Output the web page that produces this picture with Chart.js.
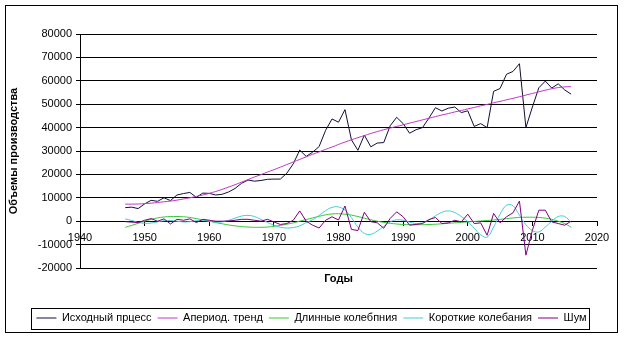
<!DOCTYPE html>
<html lang="ru">
<head>
<meta charset="utf-8">
<title>Объемы производства</title>
<script src="https://cdn.jsdelivr.net/npm/chart.js@4.4.1/dist/chart.umd.min.js"></script>
<style>
  html, body { margin: 0; padding: 0; background: #fff; }
  #wrap { width: 624px; height: 338px; }
</style>
</head>
<body>
<div id="wrap"><canvas id="productionChart" width="624" height="338"></canvas></div>
<script>
const years = [
  1947, 1948, 1949, 1950, 1951, 1952, 1953, 1954, 1955, 1956,
  1957, 1958, 1959, 1960, 1961, 1962, 1963, 1964, 1965, 1966,
  1967, 1968, 1969, 1970, 1971, 1972, 1973, 1974, 1975, 1976,
  1977, 1978, 1979, 1980, 1981, 1982, 1983, 1984, 1985, 1986,
  1987, 1988, 1989, 1990, 1991, 1992, 1993, 1994, 1995, 1996,
  1997, 1998, 1999, 2000, 2001, 2002, 2003, 2004, 2005, 2006,
  2007, 2008, 2009, 2010, 2011, 2012, 2013, 2014, 2015, 2016,
];

const source = [
  5800, 6000, 5400, 7400, 8900, 8500, 10000, 8800, 11200, 11800,
  12300, 10200, 12000, 11900, 11200, 11500, 12500, 14000, 16200, 17600,
  17100, 17400, 17900, 18000, 18000, 20500, 24500, 30400, 27700, 29500,
  31900, 38800, 43700, 42300, 47700, 34800, 30300, 36800, 31800, 33400,
  33600, 40800, 44400, 41700, 37600, 39100, 40000, 44100, 48500, 47100,
  48300, 48800, 46400, 47200, 40500, 41700, 40000, 55500, 56700, 62800,
  64000, 67300, 40000, 48800, 57000, 59900, 56900, 58700, 56100, 54300,
];

const trend = [
  7300, 7300, 7350, 7500, 7700, 8000, 8300, 8600, 9000, 9500,
  10000, 10600, 11200, 11900, 12700, 13600, 14600, 15600, 16700, 17800,
  18900, 19900, 21000, 22000, 23100, 24200, 25300, 26400, 27500, 28600,
  29600, 30700, 31700, 32800, 33800, 34800, 35700, 36600, 37500, 38300,
  39100, 39800, 40500, 41200, 41900, 42600, 43300, 44000, 44700, 45400,
  46000, 46700, 47300, 48000, 48600, 49300, 49900, 50600, 51200, 51900,
  52500, 53200, 53900, 54600, 55300, 56000, 56600, 57100, 57400, 57500,
];

const longWaves = [
  -2600, -1800, -900, 0, 800, 1400, 1800, 2000, 2000, 1900,
  1600, 1100, 600, 0, -600, -1100, -1600, -2000, -2300, -2500,
  -2600, -2600, -2500, -2200, -1800, -1300, -700, 0, 700, 1400,
  2100, 2700, 3100, 3200, 3000, 2600, 2000, 1300, 600, 0,
  -500, -900, -1200, -1400, -1500, -1500, -1500, -1400, -1300, -1100,
  -900, -700, -500, -300, -100, 100, 300, 500, 800, 1100,
  1400, 1600, 1700, 1700, 1600, 1300, 800, 0, -1000, -2600,
];

const shortWaves = [
  1000, 300, -500, -900, -800, -300, 200, 300, 0, -300,
  -200, 200, 300, 0, -400, -300, 400, 1300, 2200, 2500,
  2000, 800, -500, -1700, -2600, -2900, -2700, -2000, -600, 600,
  2500, 4500, 5900, 6100, 4700, 1500, -2500, -5200, -5600, -4200,
  -2200, -300, 600, 400, -400, -1000, -700, 500, 2300, 3800,
  4400, 3700, 2000, -200, -3000, -5800, -6800, -2500, 3000, 6800,
  6600, 2500, -1500, -4000, -4600, -2500, 0, 2000, 2000, -500,
];

const noise = [
  -200, -400, -600, 400, 1100, 0, 1000, -1200, 800, 400,
  1000, -600, 800, 400, 0, 0, 100, 400, 800, 800,
  400, 0, 800, -300, -1400, -1000, 400, 4400, 0, -1700,
  -2900, 400, 1900, 500, 6500, -3500, -4000, 3800, -200, -700,
  -3000, 1200, 4000, 1900, -1700, -1400, -1000, 700, 1600, -1000,
  -700, 400, -300, 3000, -1000, -700, -6000, 3300, -700, 1900,
  3600, 8600, -14500, -3900, 4700, 4700, -300, -1000, -1700, 0,
];

const seriesNames = [
  "Исходный прцесс",
  "Апериод. тренд",
  "Длинные колебпния",
  "Короткие колебания",
  "Шум",
];
const seriesColors = ["#101038", "#c038c8", "#38c838", "#40d0d0", "#800080"];
const smoothed = [false, true, true, true, false];

const font = 'Arial, "Liberation Sans", sans-serif';

function toPoints(values) {
  return values.map((v, i) => ({ x: years[i], y: v }));
}

const datasets = [source, trend, longWaves, shortWaves, noise].map((values, i) => ({
  label: seriesNames[i],
  data: toPoints(values),
  borderColor: seriesColors[i],
  backgroundColor: seriesColors[i],
  borderWidth: 1,
  pointRadius: 0,
  tension: smoothed[i] ? 0.4 : 0,
  // later series sit on top, like in the spreadsheet
  order: seriesNames.length - i,
}));

// white background, outer frame and a box around the legend
const framePlugin = {
  id: "frame",
  beforeDraw(chart) {
    const ctx = chart.ctx;
    ctx.save();
    ctx.fillStyle = "#fff";
    ctx.fillRect(0, 0, chart.width, chart.height);
    ctx.restore();
  },
  afterLayout(chart) {
    // centre the legend under the whole frame, not the padded area
    chart.legend.left += 13;
    chart.legend.right += 13;
  },
  afterDraw(chart) {
    const ctx = chart.ctx;
    ctx.save();
    ctx.strokeStyle = "#000";
    ctx.lineWidth = 1;
    ctx.strokeRect(5.5, 5.5, 612, 327);
    const boxes = chart.legend.legendHitBoxes;
    if (boxes && boxes.length) {
      const left = Math.round(Math.min(...boxes.map((b) => b.left)) - 5);
      const right = Math.round(Math.max(...boxes.map((b) => b.left + b.width)) + 2);
      const top = Math.round(Math.min(...boxes.map((b) => b.top)) - 5);
      const bottom = Math.round(Math.max(...boxes.map((b) => b.top + b.height)) + 5);
      ctx.strokeRect(left + 0.5, top + 0.5, right - left, bottom - top);
    }
    ctx.restore();
  },
};

new Chart(document.getElementById("productionChart"), {
  type: "line",
  data: { datasets },
  plugins: [framePlugin],
  options: {
    responsive: false,
    animation: false,
    devicePixelRatio: 1,
    layout: { padding: { left: 0, right: 27, top: 34, bottom: 4.5 } },
    plugins: {
      tooltip: { enabled: false },
      legend: {
        position: "bottom",
        labels: {
          usePointStyle: true,
          pointStyle: "line",
          pointStyleWidth: 20,
          padding: 6,
          color: "#000",
          font: { family: font, size: 11 },
          sort: (a, b) => a.datasetIndex - b.datasetIndex,
        },
      },
    },
    scales: {
      x: {
        type: "linear",
        position: { y: 0 },
        min: 1940,
        max: 2020,
        grid: { drawOnChartArea: false, drawTicks: true, tickLength: 4, color: "#000" },
        border: { display: true, color: "#000", width: 1 },
        ticks: {
          stepSize: 10,
          padding: 6,
          color: "#000",
          font: { family: font, size: 11 },
          maxRotation: 0,
          autoSkip: false,
          callback: (v) => String(v),
        },
      },
      xTitle: {
        type: "linear",
        position: "bottom",
        min: 1940,
        max: 2020,
        grid: { display: false },
        border: { display: false },
        ticks: { display: false },
        title: {
          display: true,
          text: "Годы",
          color: "#000",
          font: { family: font, size: 11, weight: "bold" },
          padding: { top: 0, bottom: 21 },
        },
        afterFit(scale) {
          scale.height = 38.5;
        },
      },
      y: {
        min: -20000,
        max: 80000,
        grid: { color: "#000", lineWidth: 1, tickLength: 4 },
        border: { display: true, color: "#000", width: 1 },
        ticks: {
          stepSize: 10000,
          padding: 4,
          color: "#000",
          font: { family: font, size: 11 },
          callback: (v) => String(v),
        },
        title: {
          display: true,
          text: "Объемы производства",
          color: "#000",
          font: { family: font, size: 11, weight: "bold" },
          padding: { top: 7, bottom: 0 },
        },
        afterFit(scale) {
          scale.width = 80;
        },
      },
    },
  },
});
</script>
</body>
</html>
